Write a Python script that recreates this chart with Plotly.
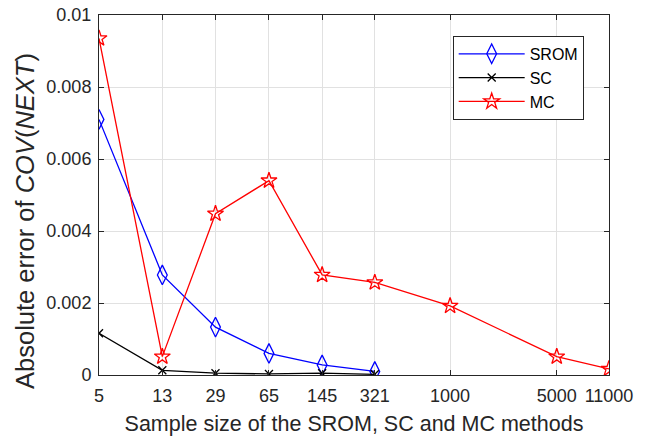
import numpy as np
import plotly.graph_objects as go

x_all = [5, 13, 29, 65, 145, 321, 1000, 5000, 11000]
x_ticks = ["5", "13", "29", "65", "145", "321", "1000", "5000", "11000"]

srom_x = [5, 13, 29, 65, 145, 321]
srom_y = [0.00710, 0.00278, 0.00133, 0.00060, 0.00028, 0.00010]

sc_x = [5, 13, 29, 65, 145, 321]
sc_y = [0.00116, 0.00013, 0.00005, 0.00003, 0.00005, 0.00002]

mc_x = [5, 13, 29, 65, 145, 321, 1000, 5000, 11000]
mc_y = [0.00935, 0.00051, 0.00448, 0.00540, 0.00278, 0.00257, 0.00192, 0.00051, 0.00017]

y_ticks = [0, 0.002, 0.004, 0.006, 0.008, 0.01]
y_labels = ["0", "0.002", "0.004", "0.006", "0.008", "0.01"]

font = "Liberation Sans, Arial, sans-serif"

fig = go.Figure()
fig.add_trace(go.Scatter(x=srom_x, y=srom_y, name="SROM", mode="lines+markers",
                         line=dict(color="#0000ff", width=1.3),
                         marker=dict(symbol="diamond-tall-open", size=14, color="#0000ff", line=dict(width=1.3))))
fig.add_trace(go.Scatter(x=sc_x, y=sc_y, name="SC", mode="lines+markers",
                         line=dict(color="#000000", width=1.3),
                         marker=dict(symbol="x-thin-open", size=8, color="#000000", line=dict(width=1.3, color="#000000"))))
fig.add_trace(go.Scatter(x=mc_x, y=mc_y, name="MC", mode="lines+markers",
                         line=dict(color="#ff0000", width=1.3),
                         marker=dict(symbol="star-open", size=12, color="#ff0000", line=dict(width=1.3))))

axis_common = dict(showline=True, linecolor="#262626", linewidth=1, mirror="ticks",
                   ticks="inside", ticklen=5, tickcolor="#262626", automargin=False,
                   ticklabeloverflow="allow",
                   showgrid=True, gridcolor="#e1e1e1", gridwidth=1, zeroline=False,
                   tickfont=dict(family=font, size=18, color="#262626"))

fig.update_xaxes(type="log", range=[np.log10(5), np.log10(11000)],
                 tickvals=x_all, ticktext=x_ticks, ticklabelstandoff=4,
                 title=dict(text="Sample size of the SROM, SC and MC methods",
                            font=dict(family=font, size=21.5, color="#262626"), standoff=12),
                 **axis_common)
fig.update_yaxes(range=[0, 0.01], tickvals=y_ticks, ticktext=y_labels,
                 ticklabelstandoff=3, **axis_common)

fig.add_annotation(text="Absolute error of <i>COV</i>(<i>NEXT</i>)",
                   xref="paper", yref="paper", x=-0.145, y=0.428,
                   xanchor="center", yanchor="middle", textangle=-90, showarrow=False,
                   font=dict(family=font, size=25.5, color="#262626"))

fig.update_layout(width=646, height=436,
                  margin=dict(l=99, r=37, t=15, b=61),
                  paper_bgcolor="white", plot_bgcolor="white",
                  legend=dict(x=0.6935, y=0.942, xanchor="left", yanchor="top",
                              bordercolor="#262626", borderwidth=1, bgcolor="white",
                              font=dict(family=font, size=16, color="#000000"),
                              itemwidth=66, tracegroupgap=0))

fig.write_html("out.html", config={"displayModeBar": False},
               post_script="document.body.style.margin='0';document.body.style.overflow='hidden';")
